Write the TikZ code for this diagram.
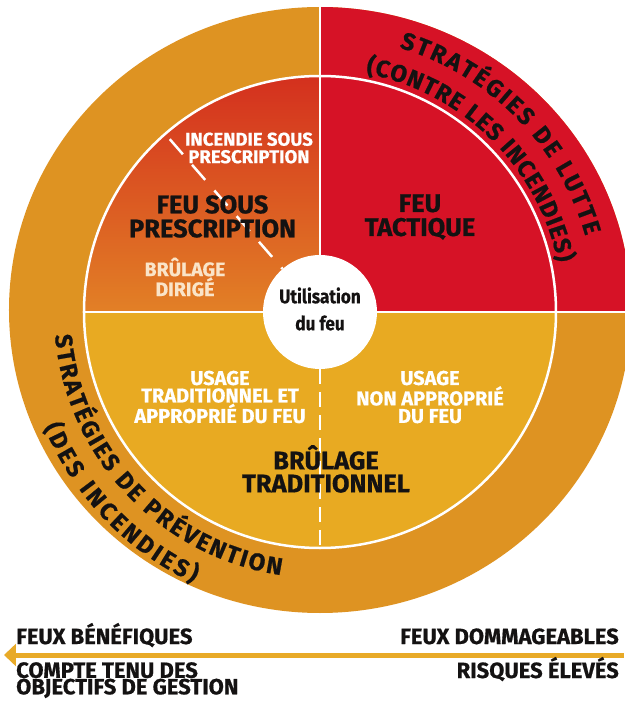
\documentclass[tikz,border=0pt]{standalone}
\usepackage{fontspec}
\newfontfamily\din[FakeBold=0.7]{Fira Sans}
\newfontfamily\dinc[FakeStretch=0.88,FakeBold=0.5]{Fira Sans}
\usetikzlibrary{decorations.text,arrows.meta}
\definecolor{ringor}{RGB}{222,147,34}
\definecolor{firered}{RGB}{214,18,38}
\definecolor{innery}{RGB}{232,170,34}
\definecolor{tlTop}{RGB}{212,48,30}
\definecolor{tlBot}{RGB}{226,128,38}
\definecolor{paleW}{RGB}{250,228,200}
\definecolor{arrowc}{RGB}{232,170,40}
\definecolor{ink}{RGB}{20,18,18}
\begin{document}
\begin{tikzpicture}[x=1pt,y=1pt,
  lbl/.style 2 args={font={\din\bfseries\fontsize{#1}{#2}\selectfont}, inner sep=0pt, align=center},
  wline/.style={white, line width=2.5pt},
  dashv/.style={white, line width=2.5pt, dash pattern=on 15pt off 8pt},
  dashd/.style={white, line width=2.5pt, dash pattern=on 20pt off 14pt},
  arctext/.style={decorate, decoration={text along path, text align={fit to path},
     text={|\din\bfseries\fontsize{24}{24}\selectfont\color{ink}|#1}}}
]
\useasboundingbox (-320,-410) rectangle (304,312);
% outer ring
\fill[ringor] (0,2) ellipse [x radius=311, y radius=303];
\begin{scope}
  \clip (0,0) rectangle (330,330);
  \fill[firered] (0,2) ellipse [x radius=311, y radius=303];
\end{scope}
% inner disc
\begin{scope}
  \clip (0,0) circle (236);
  \fill[innery] (-240,0) rectangle (240,-240);
  \shade[top color=tlTop, bottom color=tlBot] (-240,0) rectangle (0,236);
  \fill[firered] (0,0) rectangle (240,240);
\end{scope}
% white structure lines
\draw[wline] (0,0) circle (236);
\coordinate (ringtop) at (0,306);
\coordinate (ringright) at (330,0);
\coordinate (innerleft) at (-236,0);
\coordinate (innerbot) at (0,-236);
\coordinate (diagend) at (131:229);
\node[circle, fill=white, minimum size=114pt, inner sep=0pt] (hub) at (0,0) {};
\draw[wline] (hub.north) -- (ringtop);
\draw[wline] (hub.east) -- (ringright);
\draw[wline] (hub.west) -- (innerleft);
\draw[dashv] (hub.south) -- (innerbot);
\draw[dashd] (diagend) -- (hub.131);
% hub text
\node[font={\dinc\bfseries\fontsize{19.5}{27}\selectfont}, inner sep=0pt, align=center, text=ink] (util) at (0,3) {Utilisation\\du feu};
% quadrant texts
\node[lbl={18.5}{17.5}, text=white] (incendie) at (-71,164) {INCENDIE SOUS\\PRESCRIPTION};
\node[lbl={25.5}{24}, text=ink] (feusous) at (-107.5,95.5) {FEU SOUS\\PRESCRIPTION};
\node[lbl={19.5}{16}, text=paleW] (dirige) at (-135,35) {BRÛLAGE\\DIRIGÉ};
\node[lbl={25.5}{24}, text=ink] (tactique) at (100,95) {FEU\\TACTIQUE};
\node[lbl={20}{17.5}, text=white] (usagetrad) at (-100,-85) {USAGE\\TRADITIONNEL ET\\APPROPRIÉ DU FEU};
\node[lbl={20}{17.5}, text=white] (usagenon) at (110,-85) {USAGE\\NON APPROPRIÉ\\DU FEU};
\node[lbl={25.5}{23}, text=ink] (brtrad) at (6,-157) {BRÛLAGE\\TRADITIONNEL};
% curved ring texts
\path[arctext={STRATÉGIES DE LUTTE}] (73.3:276) arc[start angle=73.3, end angle=16, radius=276];
\path[arctext={(CONTRE LES INCENDIES)}] (79.2:243) arc[start angle=79.2, end angle=11.7, radius=243];
\path[arctext={STRATÉGIES DE PRÉVENTION}] (185:266) arc[start angle=185, end angle=261.5, radius=266];
\path[arctext={(DES INCENDIES)}] (202.6:299) arc[start angle=202.6, end angle=245, radius=299];
% bottom scale
\coordinate (arR) at (304,-343);
\coordinate (arL) at (-316,-343);
\draw[arrowc, line width=5pt, -{Triangle[length=12pt, width=22pt]}] (arR) -- (arL);
\node[lbl={22}{16.5}, text=ink, anchor=base west] (benef) at (-304,-332) {FEUX BÉNÉFIQUES};
\node[lbl={22}{16.5}, text=ink, anchor=base east] (domm) at (299,-332) {FEUX DOMMAGEABLES};
\node[lbl={22}{16.5}, text=ink, anchor=north west, align=left] (compte) at (-304,-350) {COMPTE TENU DES\\OBJECTIFS DE GESTION};
\node[lbl={22}{16.5}, text=ink, anchor=base east] (risques) at (299,-366) {RISQUES ÉLEVÉS};
\end{tikzpicture}
\end{document}
